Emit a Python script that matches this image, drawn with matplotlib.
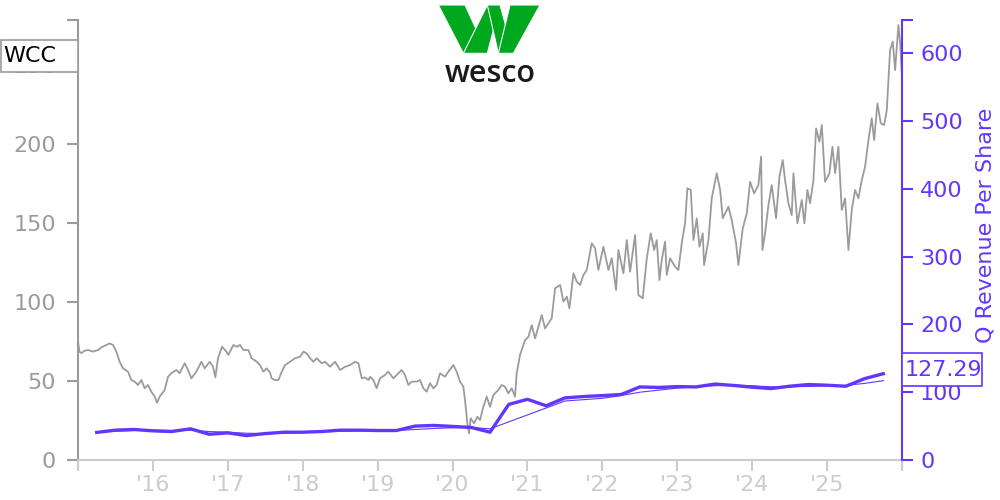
import numpy as np
import matplotlib
matplotlib.use("Agg")
import matplotlib.pyplot as plt
from matplotlib.patches import Polygon, Rectangle

# ── data ────────────────────────────────────────────────────────────────────
price_dates = [
    2015.000, 2015.020, 2015.045, 2015.089, 2015.134, 2015.200, 2015.267, 2015.312,
    2015.378, 2015.423, 2015.467, 2015.512, 2015.556, 2015.601, 2015.668, 2015.712,
    2015.757, 2015.801, 2015.846, 2015.890, 2015.935, 2015.979, 2016.024, 2016.055,
    2016.090, 2016.157, 2016.202, 2016.246, 2016.313, 2016.357, 2016.424, 2016.469,
    2016.513, 2016.580, 2016.647, 2016.691, 2016.758, 2016.802, 2016.834, 2016.869,
    2016.923, 2016.980, 2017.007, 2017.074, 2017.119, 2017.163, 2017.208, 2017.274,
    2017.319, 2017.386, 2017.430, 2017.475, 2017.519, 2017.564, 2017.586, 2017.631,
    2017.675, 2017.720, 2017.764, 2017.831, 2017.898, 2017.964, 2018.009, 2018.053,
    2018.098, 2018.142, 2018.187, 2018.254, 2018.298, 2018.365, 2018.432, 2018.498,
    2018.565, 2018.632, 2018.699, 2018.743, 2018.788, 2018.832, 2018.877, 2018.898,
    2018.943, 2018.987, 2019.032, 2019.098, 2019.143, 2019.210, 2019.276, 2019.321,
    2019.365, 2019.410, 2019.454, 2019.521, 2019.566, 2019.610, 2019.655, 2019.699,
    2019.744, 2019.788, 2019.833, 2019.899, 2019.944, 2020.011, 2020.055, 2020.100,
    2020.144, 2020.166, 2020.198, 2020.220, 2020.242, 2020.287, 2020.331, 2020.367,
    2020.411, 2020.456, 2020.500, 2020.545, 2020.611, 2020.656, 2020.700, 2020.745,
    2020.790, 2020.834, 2020.856, 2020.901, 2020.968, 2021.013, 2021.057, 2021.102,
    2021.146, 2021.191, 2021.235, 2021.280, 2021.324, 2021.369, 2021.436, 2021.480,
    2021.525, 2021.560, 2021.614, 2021.658, 2021.703, 2021.747, 2021.792, 2021.858,
    2021.903, 2021.947, 2022.014, 2022.081, 2022.125, 2022.183, 2022.214, 2022.281,
    2022.326, 2022.370, 2022.437, 2022.481, 2022.539, 2022.593, 2022.646, 2022.691,
    2022.726, 2022.762, 2022.793, 2022.837, 2022.860, 2022.904, 2022.971, 2023.015,
    2023.060, 2023.104, 2023.135, 2023.180, 2023.216, 2023.260, 2023.296, 2023.340,
    2023.358, 2023.416, 2023.460, 2023.527, 2023.572, 2023.607, 2023.683, 2023.727,
    2023.785, 2023.816, 2023.874, 2023.928, 2023.972, 2024.026, 2024.083, 2024.119,
    2024.137, 2024.172, 2024.217, 2024.261, 2024.319, 2024.364, 2024.408, 2024.439,
    2024.484, 2024.528, 2024.551, 2024.604, 2024.662, 2024.697, 2024.737, 2024.773,
    2024.818, 2024.853, 2024.898, 2024.929, 2024.973, 2025.031, 2025.071, 2025.107,
    2025.151, 2025.196, 2025.240, 2025.285, 2025.329, 2025.374, 2025.418, 2025.463,
    2025.507, 2025.552, 2025.596, 2025.628, 2025.672, 2025.717, 2025.761, 2025.797,
    2025.841, 2025.877, 2025.908, 2025.952, 2025.975, 2025.997,
]
price_values = [
    75.0, 68.5, 67.7, 69.2, 69.6, 68.6, 69.6, 71.3,
    72.8, 73.8, 72.8, 68.6, 62.2, 58.0, 55.9, 50.6,
    49.6, 47.5, 50.6, 45.4, 47.5, 43.2, 40.1, 36.3,
    40.1, 44.3, 52.7, 54.9, 57.0, 54.9, 61.2, 57.0,
    51.7, 55.9, 62.2, 58.0, 62.2, 59.0, 52.3, 64.4,
    71.7, 68.6, 66.5, 72.8, 71.7, 72.8, 69.6, 69.6,
    64.4, 62.2, 60.1, 55.9, 58.0, 55.3, 51.7, 50.6,
    50.6, 55.9, 60.1, 62.2, 64.4, 65.4, 68.6, 67.5,
    64.4, 62.2, 64.4, 61.2, 62.2, 59.0, 62.2, 57.0,
    59.0, 60.1, 62.2, 61.2, 51.7, 52.3, 50.6, 52.7,
    50.6, 45.4, 51.7, 53.8, 55.9, 51.7, 54.9, 57.0,
    53.8, 47.5, 49.6, 49.6, 50.6, 45.4, 43.2, 48.6,
    45.4, 47.5, 54.9, 52.7, 55.9, 60.1, 55.9, 49.6,
    46.4, 38.0, 23.2, 16.9, 26.4, 23.2, 27.4, 25.3,
    33.7, 40.1, 33.7, 41.1, 44.3, 47.5, 46.4, 42.2,
    45.4, 40.1, 54.9, 66.5, 75.9, 78.0, 85.4, 77.0,
    84.4, 91.8, 83.3, 86.5, 89.7, 108.7, 110.8, 100.2,
    103.4, 96.0, 118.2, 112.9, 110.8, 117.1, 120.3, 137.2,
    134.0, 120.3, 135.0, 120.3, 127.7, 107.6, 132.9, 118.2,
    139.2, 119.2, 142.4, 104.4, 102.3, 127.7, 143.5, 132.9,
    139.2, 113.9, 126.6, 138.2, 117.1, 127.7, 122.3, 120.3,
    137.2, 149.8, 172.0, 170.9, 139.2, 153.0, 135.0, 143.5,
    123.4, 139.2, 165.6, 181.5, 170.9, 153.0, 160.3, 151.9,
    137.2, 123.4, 146.6, 156.1, 176.1, 168.8, 174.0, 192.0,
    132.9, 143.5, 161.4, 174.0, 153.0, 179.3, 189.9, 177.2,
    162.5, 155.0, 181.5, 149.8, 164.6, 149.8, 170.9, 162.5,
    177.2, 209.9, 201.5, 212.0, 176.1, 181.5, 198.3, 181.5,
    198.3, 158.2, 165.6, 132.9, 158.2, 170.9, 165.6, 177.2,
    185.6, 202.5, 216.3, 202.5, 225.7, 213.1, 212.0, 221.5,
    259.5, 264.8, 246.8, 275.3, 263.7, 244.8,
]

rev_dates = [
    2015.25, 2015.50, 2015.75, 2016.00, 2016.25, 2016.50, 2016.75, 2017.00,
    2017.25, 2017.50, 2017.75, 2018.00, 2018.25, 2018.50, 2018.75, 2019.00,
    2019.25, 2019.50, 2019.75, 2020.00, 2020.25, 2020.50, 2020.75, 2021.00,
    2021.25, 2021.50, 2021.75, 2022.00, 2022.25, 2022.50, 2022.75, 2023.00,
    2023.25, 2023.50, 2023.75, 2024.00, 2024.25, 2024.50, 2024.75, 2025.00,
    2025.25, 2025.50, 2025.75,
]
rev_values = [
    40.7, 44.0, 45.0, 43.0, 42.0, 46.0, 38.0, 40.0,
    36.0, 39.0, 41.0, 41.0, 42.0, 44.0, 44.0, 43.5,
    43.5, 50.0, 51.0, 49.5, 48.0, 41.0, 82.0, 89.5,
    80.0, 91.6, 93.6, 95.0, 96.6, 107.8, 107.0, 108.3,
    107.8, 112.0, 110.0, 107.4, 105.4, 108.8, 111.3, 110.3,
    108.8, 120.0, 127.29,
]

avg_dates = [
    2015.25, 2015.50, 2015.75, 2016.00, 2016.25, 2016.50, 2016.75, 2017.00,
    2017.25, 2017.50, 2017.75, 2018.00, 2018.25, 2018.50, 2018.75, 2019.00,
    2019.25, 2019.50, 2019.75, 2020.00, 2020.25, 2020.50, 2021.50, 2021.75,
    2022.00, 2022.25, 2022.50, 2022.75, 2023.00, 2023.25, 2023.50, 2023.75,
    2024.00, 2024.25, 2024.50, 2024.75, 2025.00, 2025.25, 2025.50, 2025.75,
]
avg_values = [
    41.0, 42.5, 43.5, 44.0, 43.5, 44.0, 42.0, 41.0,
    39.5, 39.0, 39.5, 40.5, 41.5, 42.5, 43.0, 43.5,
    43.5, 45.0, 46.5, 47.5, 48.0, 46.0, 87.0, 89.0,
    91.0, 95.0, 100.0, 103.0, 106.0, 108.0, 109.5, 110.5,
    109.5, 108.0, 108.0, 108.5, 109.5, 110.0, 113.0, 117.0,
]

year_ticks = list(range(2015, 2027))
year_labels = ["", "'16", "'17", "'18", "'19", "'20", "'21", "'22", "'23", "'24", "'25", ""]
price_ticks = [0, 50, 100, 150, 200, 250]
rev_ticks = [0, 100, 200, 300, 400, 500, 600]

ticker = "WCC"
last_rev_label = "127.29"

# ── style ───────────────────────────────────────────────────────────────────
GRAY = "#9b9b9b"
LIGHT = "#cccccc"
PURPLE = "#6236ff"
GREEN = "#00a81e"
PRICE_TOP = 278.5
REV_TOP = 649

fig = plt.figure(figsize=(10, 5), dpi=100, facecolor="white")
ax = fig.add_axes([0.078, 0.08, 0.824, 0.88])
ax2 = ax.twinx()

ax.plot(price_dates, price_values, color=GRAY, lw=1.3, zorder=2)
ax2.plot(avg_dates, avg_values, color=PURPLE, lw=0.8, zorder=2)
ax2.plot(rev_dates, rev_values, color=PURPLE, lw=2.4, zorder=3)

ax.set_xlim(2015, 2026)
ax.set_ylim(0, PRICE_TOP)
ax2.set_ylim(0, REV_TOP)

ax.set_xticks(year_ticks)
ax.set_xticklabels(year_labels)
ax.set_yticks(price_ticks + [PRICE_TOP])
ax.set_yticklabels([str(t) for t in price_ticks] + [""])
ax2.set_yticks(rev_ticks + [REV_TOP])
ax2.set_yticklabels([str(t) for t in rev_ticks] + [""])

for a in (ax, ax2):
    a.spines["top"].set_visible(False)
    a.set_facecolor("none")
ax.spines["right"].set_visible(False)
ax2.spines["left"].set_visible(False)
ax2.spines["bottom"].set_visible(False)
ax.spines["left"].set_color(GRAY)
ax.spines["left"].set_linewidth(1.5)
ax.spines["bottom"].set_color(LIGHT)
ax.spines["bottom"].set_linewidth(1.5)
ax2.spines["right"].set_color(PURPLE)
ax2.spines["right"].set_linewidth(1.5)

ax.tick_params(axis="y", colors=GRAY, labelsize=16, length=8, width=1.5, pad=8)
ax.tick_params(axis="x", colors=LIGHT, labelsize=16, length=8, width=1.5, pad=3)
ax2.tick_params(axis="y", colors=PURPLE, labelsize=16, length=8, width=1.5, pad=5)

fig.text(0.985, 0.55, "Q Revenue Per Share", rotation=90, ha="center",
         va="center", color=PURPLE, fontsize=16)

# last value box (fixed-width box on the right axis, text may overflow)
fig.patches.append(Rectangle((0.902, 0.228), 0.080, 0.066, transform=fig.transFigure,
                             facecolor="white", edgecolor=PURPLE, linewidth=1.2,
                             zorder=9))
fig.text(0.905, 0.261, last_rev_label, ha="left", va="center", color=PURPLE,
         fontsize=16, zorder=10)

# ticker box
fig.patches.append(Rectangle((0.001, 0.856), 0.077, 0.064, transform=fig.transFigure,
                             facecolor="white", edgecolor=GRAY, linewidth=1.2,
                             zorder=9))
fig.text(0.003, 0.888, ticker, ha="left", va="center", color="black",
         fontsize=16, zorder=10)

# ── logo ────────────────────────────────────────────────────────────────────
lax = fig.add_axes([0.40, 0.80, 0.18, 0.20])
lax.set_xlim(0, 540)
lax.set_ylim(300, 0)
lax.axis("off")
shapes = [
    [(115, 15), (195, 15), (262, 160), (190, 160)],
    [(190, 160), (262, 160), (300, 15), (262, 15)],
    [(262, 15), (300, 15), (340, 160), (295, 160)],
    [(295, 160), (340, 160), (420, 15), (330, 15)],
]
for pts in shapes:
    lax.add_patch(Polygon(pts, closed=True, facecolor=GREEN, edgecolor="white",
                          linewidth=0.8))
lax.text(272, 222, "wesco", ha="center", va="center", color="#1a1a1a",
         fontsize=22, fontfamily="Open Sans", fontweight="semibold")

fig.savefig("out.png", dpi=100)
